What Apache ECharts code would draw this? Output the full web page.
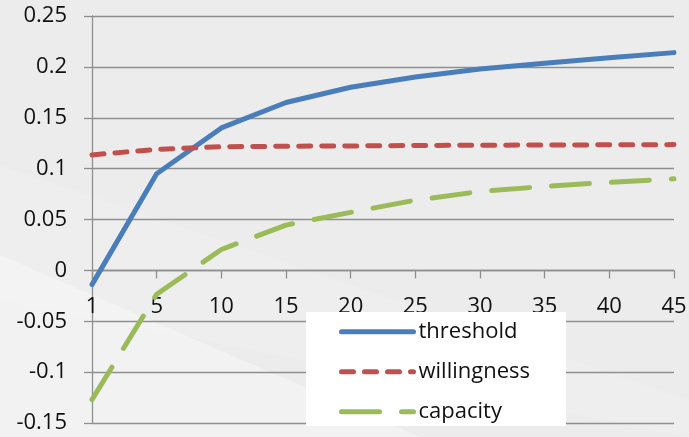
<!DOCTYPE html>
<html>
<head>
<meta charset="utf-8">
<script src="https://cdn.jsdelivr.net/npm/echarts@6/dist/echarts.min.js"></script>
<style>
  html, body { margin: 0; padding: 0; background: #ececec; }
  #chart { width: 689px; height: 437px; }
</style>
</head>
<body>
<div id="chart"></div>
<script>
// Horizon (x) and the three curves
const categories = ['1', '5', '10', '15', '20', '25', '30', '35', '40', '45'];
const threshold   = [-0.014, 0.095, 0.140, 0.165, 0.180, 0.190, 0.198, 0.2035, 0.209, 0.214];
const willingness = [0.1135, 0.119, 0.1215, 0.122, 0.1223, 0.1227, 0.123, 0.1232, 0.1234, 0.1236];
const capacity    = [-0.127, -0.0235, 0.0205, 0.0445, 0.057, 0.069, 0.0775, 0.0825, 0.0865, 0.090];

// Value axis range
const yMin = -0.15, yMax = 0.25, yStep = 0.05;

const FONT = '"Open Sans", "Liberation Sans", sans-serif';
const GRID_COLOR = '#8f8f8f';

const W = 689, H = 437;
const GRID = { left: 92, right: 15, top: 16, bottom: 14 };
// Lift the category axis from the bottom edge up to the y = 0 line
const plotHeight = H - GRID.top - GRID.bottom;
const zeroOffset = -((0 - yMin) / (yMax - yMin)) * plotHeight;

const chart = echarts.init(document.getElementById('chart'), null, { renderer: 'canvas' });

chart.setOption({
  backgroundColor: '#ececec',
  animation: false,
  textStyle: { fontFamily: FONT },
  graphic: [
    {
      type: 'polygon', z: -10, silent: true,
      shape: { points: [[0, 255], [420, 437], [0, 437]] },
      style: { fill: 'rgba(255,255,255,0.35)' }
    },
    {
      type: 'polygon', z: -10, silent: true,
      shape: { points: [[0, 165], [689, 400], [689, 437], [0, 300]] },
      style: { fill: 'rgba(255,255,255,0.12)' }
    },
    {
      type: 'rect', z: 50, silent: true,
      shape: { x: 306, y: 312, width: 260, height: 114 },
      style: { fill: '#ffffff' }
    }
  ],
  grid: Object.assign({ containLabel: false, outerBoundsMode: 'none' }, GRID),
  legend: {
    z: 60,
    orient: 'vertical',
    left: 339, top: 320.7,
    padding: 0,
    itemWidth: 72, itemHeight: 20, itemGap: 18,
    itemStyle: { color: 'rgba(0,0,0,0)', borderWidth: 0, opacity: 0 },
    lineStyle: { width: 5, cap: 'round' },
    textStyle: { fontFamily: FONT, fontSize: 22, color: '#111', lineHeight: 20 },
    data: ['threshold', 'willingness', 'capacity']
  },
  xAxis: {
    type: 'category',
    data: categories,
    boundaryGap: false,
    position: 'bottom',
    offset: zeroOffset,
    axisLine: { onZero: false, lineStyle: { color: GRID_COLOR, width: 1.3 } },
    axisTick: { show: true, length: 8, inside: false, lineStyle: { color: GRID_COLOR, width: 1.3 } },
    axisLabel: { margin: 25, fontSize: 22, color: '#111', fontFamily: FONT },
    splitLine: { show: false }
  },
  yAxis: {
    type: 'value',
    min: yMin, max: yMax, interval: yStep,
    axisLine: { show: true, lineStyle: { color: GRID_COLOR, width: 1.3 } },
    axisTick: { show: true, length: 8, lineStyle: { color: GRID_COLOR, width: 1.3 } },
    axisLabel: { margin: 25, fontSize: 22, color: '#111', fontFamily: FONT },
    splitLine: { show: true, lineStyle: { color: GRID_COLOR, width: 1.3 } }
  },
  series: [
    {
      name: 'threshold', type: 'line', data: threshold,
      showSymbol: false, symbol: 'none',
      lineStyle: { color: '#4a7ebb', width: 5, cap: 'round', join: 'round' },
      itemStyle: { color: '#4a7ebb' }
    },
    {
      name: 'willingness', type: 'line', data: willingness,
      showSymbol: false, symbol: 'none',
      lineStyle: { color: '#c0504d', width: 5, type: [12, 11], cap: 'round', join: 'round' },
      itemStyle: { color: '#c0504d' }
    },
    {
      name: 'capacity', type: 'line', data: capacity,
      showSymbol: false, symbol: 'none',
      lineStyle: { color: '#9bbb59', width: 5, type: [38, 22], cap: 'round', join: 'round' },
      itemStyle: { color: '#9bbb59' }
    }
  ]
});
</script>
</body>
</html>
